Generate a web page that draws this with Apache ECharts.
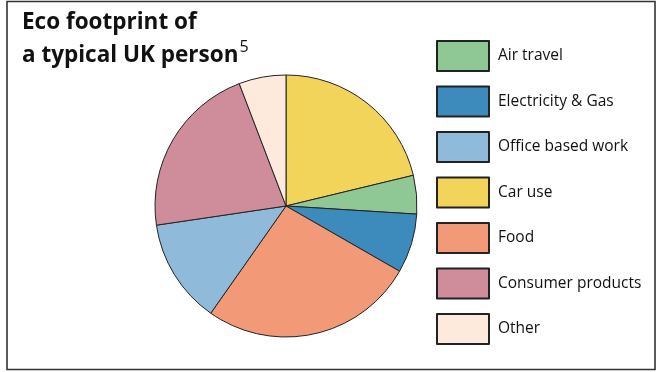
<!DOCTYPE html>
<html>
<head>
<meta charset="utf-8">
<script src="https://cdn.jsdelivr.net/npm/echarts@6/dist/echarts.min.js"></script>
<style>
  html, body {margin: 0; padding: 0; background: #fff;}
  #chart {width: 659px; height: 372px;}
</style>
</head>
<body>
<div id="chart"></div>
<script>
// slices in drawing order (clockwise from 12 o'clock)
var categories = ['Car use', 'Air travel', 'Electricity & Gas', 'Food', 'Office based work', 'Consumer products', 'Other'];
var shares = [21.2, 4.75, 7.3, 26.4, 12.9, 21.5, 5.8];
var colors = ['#f3d45b', '#8fc795', '#3d8bbd', '#f29a78', '#8fbad9', '#cf8c9b', '#fdeadc'];
// legend order as printed
var legendOrder = ['Air travel', 'Electricity & Gas', 'Office based work', 'Car use', 'Food', 'Consumer products', 'Other'];

var myChart = echarts.init(document.getElementById('chart'));
myChart.setOption({
  animation: false,
  textStyle: {fontFamily: 'Open Sans'},
  title: {
    left: 17,
    top: 1,
    text: '{b|Eco footprint of}\n{b|a typical UK person}{s|5}',
    textStyle: {
      rich: {
        b: {fontSize: 22.5, fontWeight: 'bold', color: '#111', lineHeight: 33, fontFamily: 'Open Sans'},
        s: {fontSize: 16, fontWeight: 'normal', color: '#111', verticalAlign: 'top', lineHeight: 33, padding: [0, 0, 6, 1], fontFamily: 'Open Sans'}
      }
    }
  },
  legend: {
    orient: 'vertical',
    left: 431,
    top: 35,
    data: legendOrder,
    icon: 'rect',
    itemWidth: 52,
    itemHeight: 30,
    itemGap: 13.5,
    selectedMode: false,
    textStyle: {fontSize: 15.5, color: '#111', padding: [0, 0, 0, 4]}
  },
  graphic: [{
    type: 'rect',
    shape: {x: 7, y: 1.5, width: 648, height: 368},
    style: {fill: 'none', stroke: '#333', lineWidth: 1.6},
    z: 100
  }],
  series: [{
    type: 'pie',
    center: [286, 206],
    radius: 131,
    startAngle: 90,
    clockwise: true,
    label: {show: false},
    labelLine: {show: false},
    emphasis: {disabled: true},
    itemStyle: {borderColor: '#222', borderWidth: 1},
    data: categories.map(function (c, i) {
      return {name: c, value: shares[i], itemStyle: {color: colors[i]}};
    })
  }]
});
</script>
</body>
</html>
